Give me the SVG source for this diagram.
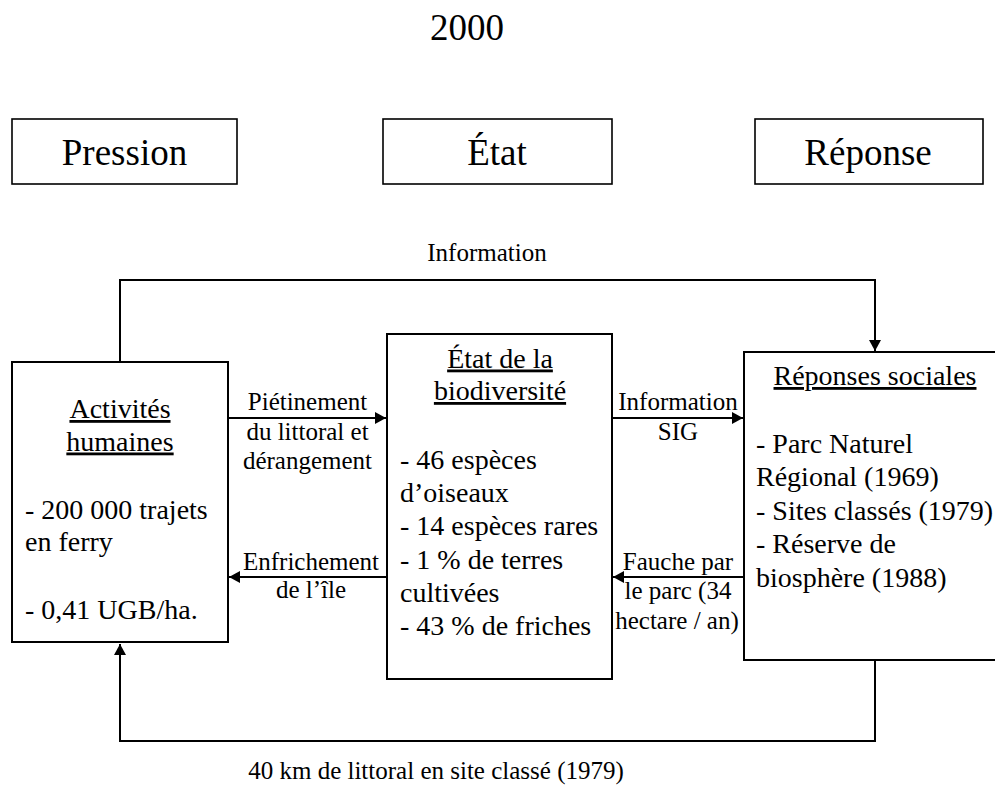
<svg xmlns="http://www.w3.org/2000/svg" width="995" height="787" viewBox="0 0 995 787" font-family="'Liberation Serif', 'DejaVu Serif', serif">
<style>
text{font-family:'Liberation Serif','DejaVu Serif',serif;fill:#000}
.t{font-size:37px;text-anchor:middle}
.b{font-size:28px}
.c{text-anchor:middle}
.u{text-decoration:underline}
.l{font-size:25px;text-anchor:middle}
.box{fill:#fff;stroke:#000;stroke-width:2}
.hb{fill:#fff;stroke:#000;stroke-width:1.6}
.ln{fill:none;stroke:#000;stroke-width:2}
</style>
<defs>
<marker id="ah" markerWidth="12" markerHeight="12" refX="11" refY="6" orient="auto" markerUnits="userSpaceOnUse">
<path d="M0,0 L11,6 L0,12 Z" fill="#000"/>
</marker>
</defs>
<rect width="995" height="787" fill="#fff"/>
<text class="t" x="467" y="40">2000</text>
<g id="hdr-pression"><rect class="hb" x="12" y="119" width="225" height="65"/><text class="t" x="124.5" y="165">Pression</text></g>
<g id="hdr-etat"><rect class="hb" x="383" y="119" width="229" height="65"/><text class="t" x="497" y="165">État</text></g>
<g id="hdr-reponse"><rect class="hb" x="755" y="119" width="228" height="65"/><text class="t" x="868" y="165">Réponse</text></g>

<g id="connectors">
<path class="ln" d="M120,362 V280 H875 V351" marker-end="url(#ah)"/>
<text class="l" x="487" y="261">Information</text>
<path class="ln" d="M875,660 V741 H120 V644" marker-end="url(#ah)"/>
<text class="l" x="436" y="779">40 km de littoral en site classé (1979)</text>
<path class="ln" d="M228,418 H386" marker-end="url(#ah)"/>
<text class="l" x="307.5" y="410">Piétinement</text>
<text class="l" x="307.5" y="439.5">du littoral et</text>
<text class="l" x="307.5" y="469">dérangement</text>
<path class="ln" d="M387,577 H229" marker-end="url(#ah)"/>
<text class="l" x="311" y="570">Enfrichement</text>
<text class="l" x="311" y="598">de l’île</text>
<path class="ln" d="M612,418 H743" marker-end="url(#ah)"/>
<text class="l" x="678" y="409.5">Information</text>
<text class="l" x="678" y="439.5">SIG</text>
<path class="ln" d="M744,577 H613" marker-end="url(#ah)"/>
<text class="l" x="678" y="570">Fauche par</text>
<text class="l" x="678" y="598.5">le parc (34</text>
<text class="l" x="677" y="628.5">hectare / an)</text>
</g>

<g id="activites">
<rect class="box" x="12" y="362" width="216" height="280"/>
<text class="b c u" x="120" y="418">Activités</text>
<text class="b c u" x="120" y="450.5">humaines</text>
<text class="b" x="25" y="518.5">- 200 000 trajets</text>
<text class="b" x="25" y="551">en ferry</text>
<text class="b" x="25" y="619">- 0,41 UGB/ha.</text>
</g>

<g id="etat">
<rect class="box" x="387" y="334" width="225" height="345"/>
<text class="b c u" x="500" y="367.5">État de la</text>
<text class="b c u" x="500" y="400">biodiversité</text>
<text class="b" x="400" y="468.5">- 46 espèces</text>
<text class="b" x="400" y="501.5">d’oiseaux</text>
<text class="b" x="400" y="535">- 14 espèces rares</text>
<text class="b" x="400" y="568.5">- 1 % de terres</text>
<text class="b" x="400" y="601.5">cultivées</text>
<text class="b" x="400" y="635">- 43 % de friches</text>
</g>

<g id="reponses">
<rect class="box" x="744" y="352" width="270" height="308"/>
<text class="b c u" x="875" y="385">Réponses sociales</text>
<text class="b" x="756" y="452.5">- Parc Naturel</text>
<text class="b" x="756" y="486">Régional (1969)</text>
<text class="b" x="756" y="519.5">- Sites classés (1979)</text>
<text class="b" x="756" y="553">- Réserve de</text>
<text class="b" x="756" y="586.5">biosphère (1988)</text>
</g>
</svg>
